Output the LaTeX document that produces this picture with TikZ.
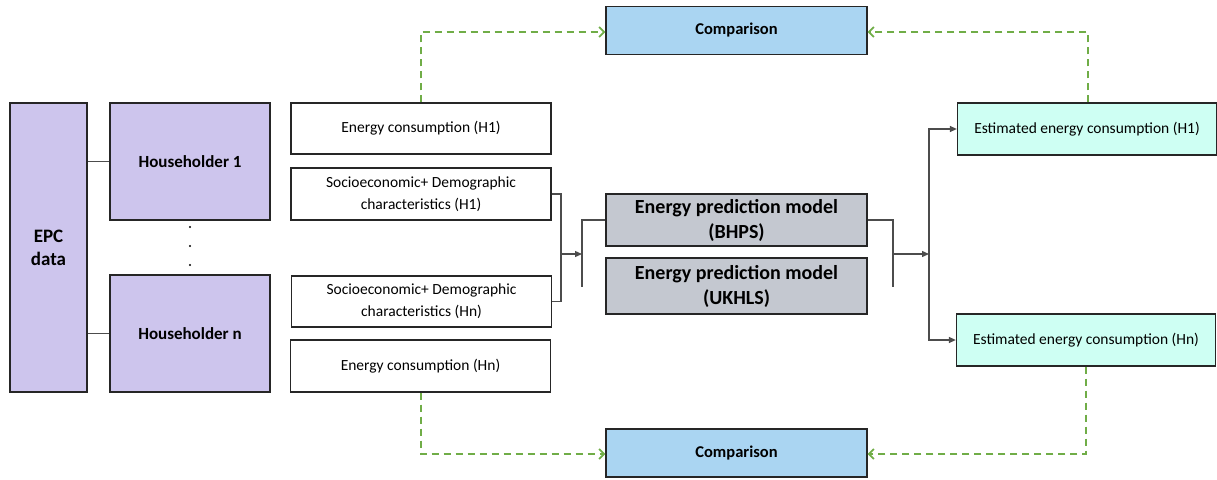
\documentclass[tikz,border=0pt]{standalone}
\usepackage{fontspec}
\setmainfont{Carlito}
\usetikzlibrary{arrows.meta}
\definecolor{lavender}{RGB}{205,197,237}
\definecolor{compblue}{RGB}{170,213,242}
\definecolor{mint}{RGB}{206,255,243}
\definecolor{modelgray}{RGB}{196,200,208}
\definecolor{dashgreen}{RGB}{112,173,71}
\begin{document}
\begin{tikzpicture}[x=1pt,y=-1pt,
    box/.style={draw=black!85,line width=1.3pt,inner sep=0pt,align=center,
      font=\fontsize{15.5}{22}\selectfont},
    hhbox/.style={box,fill=lavender,minimum width=160pt,minimum height=117pt,
      font=\fontsize{17}{22}\selectfont\bfseries},
    inbox/.style={box,fill=white,minimum width=260pt,minimum height=51pt},
    modelbox/.style={box,fill=modelgray,minimum width=261pt,
      font=\fontsize{20}{25}\selectfont\bfseries},
    compbox/.style={box,fill=compblue,minimum width=261pt,minimum height=48pt,
      font=\fontsize{16.5}{20}\selectfont\bfseries},
    estbox/.style={box,fill=mint,minimum width=259pt,minimum height=52pt},
    link/.style={draw=black!70,line width=1.3pt},
    arr/.style={link,-{Triangle[length=7pt,width=6pt]}},
    cmp/.style={draw=dashgreen,line width=1.8pt,dash pattern=on 7pt off 5pt,
      -{Straight Barb[length=5pt,width=10pt]}}]
  \useasboundingbox (0,0) rectangle (1217,479);
      % data side
      \node[box,fill=lavender,minimum width=77pt,minimum height=289pt,
        font=\fontsize{19}{23}\selectfont\bfseries] (epc) at (48.5,247.5) {EPC\\data};
      \node[hhbox] (hh1) at (190,161.5) {Householder 1};
      \node[hhbox] (hhn) at (190,333.5) {Householder n};
      \foreach \y in {227,246,265} \fill (190,\y) circle (1.1);
      \node[inbox] (en1) at (421,128.5) {Energy consumption (H1)};
      \node[inbox,minimum height=52pt] (se1) at (421,194) {Socioeconomic+ Demographic\\characteristics (H1)};
      \node[inbox] (sen) at (421.5,301.5) {Socioeconomic+ Demographic\\characteristics (Hn)};
      \node[inbox,minimum height=52pt] (enn) at (420.5,366) {Energy consumption (Hn)};
      % models
      \node[modelbox,minimum height=52pt] (bhps) at (736.5,220) {Energy prediction model\\(BHPS)};
      \node[modelbox,minimum height=56pt] (ukhls) at (736.5,286) {Energy prediction model\\(UKHLS)};
      % outputs
      \node[estbox] (est1) at (1087,129) {Estimated energy consumption (H1)};
      \node[estbox] (estn) at (1086,340) {Estimated energy consumption (Hn)};
      \node[compbox] (comp1) at (736.5,30.5) {Comparison};
      \node[compbox] (comp2) at (736.5,453) {Comparison};
      % joints
      \coordinate (jl) at (561,254);
      \coordinate (ml) at (582,254);
      \coordinate (mlb) at (582,287);
      \coordinate (mr) at (893,254);
      \coordinate (mrb) at (893,287);
      \coordinate (jr) at (929,254);
      \coordinate (c1a) at (421,32);
      \coordinate (c1b) at (1088,32);
      \coordinate (c2a) at (421,454);
      \coordinate (c2b) at (1086,454);
      \draw[link] (epc.east |- hh1) -- (hh1.west);
      \draw[link] (epc.east |- hhn) -- (hhn.west);
      \draw[link] (se1.east) -| (jl) |- (sen.east);
      \draw[arr] (jl) -- (ml);
      \draw[link] (bhps.west) -| (mlb);
      \draw[link] (bhps.east) -| (mrb);
      \draw[arr] (mr) -- (jr);
      \draw[arr] (jr) |- (est1.west);
      \draw[arr] (jr) |- (estn.west);
      \draw[cmp] (en1.north -| c1a) -- (c1a) -- (comp1.west |- c1a);
      \draw[cmp] (est1.north -| c1b) -- (c1b) -- (comp1.east |- c1b);
      \draw[cmp] (enn.south -| c2a) -- (c2a) -- (comp2.west |- c2a);
      \draw[cmp] (estn.south -| c2b) -- (c2b) -- (comp2.east |- c2b);
  \end{tikzpicture}
\end{document}
